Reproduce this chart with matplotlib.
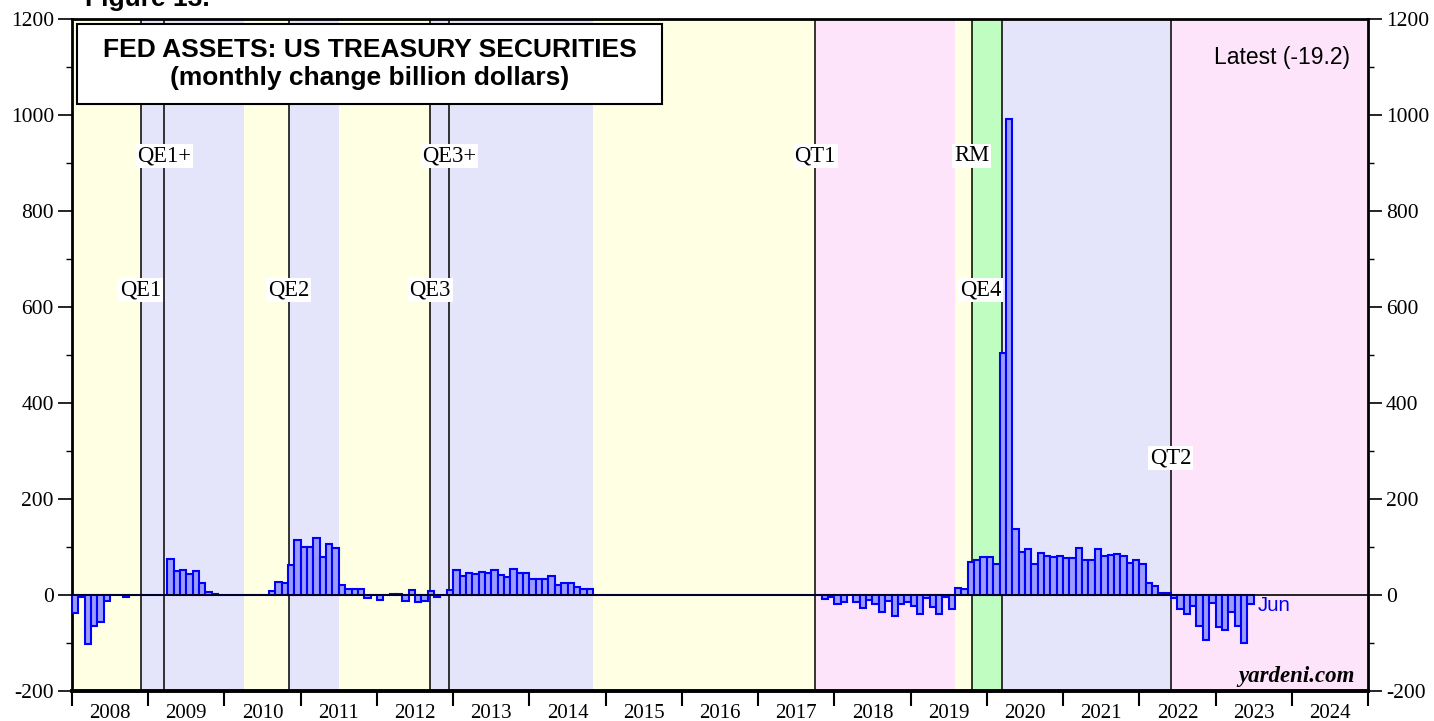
import numpy as np
import matplotlib
matplotlib.use("Agg")
import matplotlib.pyplot as plt
from matplotlib.patches import Rectangle

plt.rcParams["axes.unicode_minus"] = False

# ---------------- data ----------------
start_year = 2008  # first month = Jan 2008, monthly through Jun 2023
chg_2008 = [-37, -5, -102, -64, -57, -12, 0, 0, -4, 0, 0, 0]
chg_2009 = [-1, -1, 0, 74, 51, 53, 43, 49, 24, 6, 3, 1]
chg_2010 = [0, 0, 0, 0, 0, 0, 0, 8, 28, 26, 63, 115]
chg_2011 = [99, 99, 119, 80, 106, 97, 21, 13, 12, 13, -6, -1]
chg_2012 = [-10, 0, 3, 3, -12, 10, -15, -12, 9, -4, 1, 10]
chg_2013 = [53, 40, 45, 44, 47, 46, 53, 41, 38, 55, 46, 45]
chg_2014 = [34, 34, 33, 39, 20, 26, 24, 16, 12, 12, 0, 0]
chg_2015 = [-1, -1, -1, 0, 0, 0, 0, 0, 0, 0, 0, 0]
chg_2016 = [0, 0, 0, 0, 0, 0, 0, 0, 0, 0, 0, 0]
chg_2017 = [0, 0, 0, 0, 0, 0, 0, 0, 0, 0, -9, -4]
chg_2018 = [-19, -14, -1, -14, -28, -10, -19, -36, -12, -44, -19, -14]
chg_2019 = [-22, -39, -7, -24, -40, -4, -30, 14, 13, 68, 73, 80]
chg_2020 = [80, 65, 505, 992, 138, 89, 96, 65, 87, 81, 80, 81]
chg_2021 = [77, 77, 97, 73, 72, 96, 81, 83, 85, 82, 66, 73]
chg_2022 = [64, 26, 18, 4, 5, -7, -30, -40, -23, -65, -94, -16]
chg_2023 = [-66, -72, -36, -64, -101, -19.2]

values = (chg_2008 + chg_2009 + chg_2010 + chg_2011 + chg_2012 + chg_2013 +
          chg_2014 + chg_2015 + chg_2016 + chg_2017 + chg_2018 + chg_2019 +
          chg_2020 + chg_2021 + chg_2022 + chg_2023)

year_labels = [str(y) for y in range(2008, 2025)]
y_ticks = [-200, 0, 200, 400, 600, 800, 1000, 1200]

# policy events (fractional year) and shading periods
events = ["QE1", "QE1+", "QE2", "QE3", "QE3+", "QT1", "RM", "QE4", "QT2"]
event_dates = [2008.90, 2009.21, 2010.84, 2012.70, 2012.95, 2017.75, 2019.80, 2020.20, 2022.41]
shade_periods = [(2008.0, 2008.90, "y"), (2008.90, 2010.25, "b"), (2010.25, 2010.84, "y"),
                 (2010.84, 2011.50, "b"), (2011.50, 2012.70, "y"), (2012.70, 2014.83, "b"),
                 (2014.83, 2017.75, "y"), (2017.75, 2019.58, "p"), (2019.58, 2019.80, "y"),
                 (2019.80, 2020.20, "g"), (2020.20, 2022.41, "b"), (2022.41, 2025.0, "p")]

# ---------------- styling ----------------
shade_colors = {"y": "#FFFFE4", "b": "#E4E4FB", "p": "#FDE4FB", "g": "#C0FDC0"}
label_y = {"QE1": 635, "QE2": 635, "QE3": 635, "QE4": 635,
           "QE1+": 915, "QE3+": 915, "QT1": 915, "RM": 915, "QT2": 285}
serif = ["Liberation Serif", "DejaVu Serif"]
sans = ["Liberation Sans", "DejaVu Sans"]

W, H = 1434, 721
fig = plt.figure(figsize=(W / 100, H / 100), dpi=100)
ax = fig.add_axes([72 / W, 1 - 691 / H, 1296 / W, 672 / H])

for a, b, c in shade_periods:
    ax.axvspan(a, b, color=shade_colors[c], lw=0, zorder=0)

for name, d in zip(events, event_dates):
    ax.axvline(d, color="black", lw=1.1, zorder=1)
    xt = d
    ha = "center"
    if name == "QE4":
        xt = d - 0.01
        ha = "right"
    ax.text(xt, label_y[name], name, ha=ha, va="center", fontsize=16.3, family=serif,
            zorder=2, bbox=dict(facecolor="white", edgecolor="none", pad=1.2))

x = start_year + np.arange(len(values)) / 12.0
ax.bar(x, values, width=1 / 12.0, align="edge", color="#9C9CFF", edgecolor="#0000FF",
       linewidth=1.5, zorder=3)
ax.axhline(0, color="black", lw=1.2, zorder=4)

ax.set_xlim(2008, 2025)
ax.set_ylim(-200, 1200)

# y axis
ax.set_yticks(y_ticks)
ax.set_yticks(np.arange(-200, 1201, 100), minor=True)
ax.tick_params(axis="y", which="major", direction="out", length=10, width=1.2,
               labelsize=15.5, pad=3, left=True, right=True, labelleft=True, labelright=True)
ax.tick_params(axis="y", which="minor", direction="out", length=4, width=1.0,
               left=True, right=True)
for lab in ax.get_yticklabels():
    lab.set_family(serif)

# x axis
ax.set_xticks(np.arange(2008, 2026))
ax.set_xticklabels([])
ax.set_xticks(np.arange(2008, 2025) + 0.5, minor=True)
ax.set_xticklabels(year_labels, minor=True)
ax.tick_params(axis="x", which="major", direction="out", length=11, width=1.5)
ax.tick_params(axis="x", which="minor", length=0, labelsize=15, pad=9)
for lab in ax.get_xticklabels(minor=True):
    lab.set_family(serif)

for s in ["left", "right", "top"]:
    ax.spines[s].set_linewidth(2)
ax.spines["bottom"].set_linewidth(2.8)

# title box
box = Rectangle((5 / 1296, 1 - (104 - 19) / 672), (662 - 77) / 1296, (104 - 24) / 672,
                transform=ax.transAxes, facecolor="white", edgecolor="black", lw=1.5, zorder=6)
ax.add_patch(box)
ax.text(0.2296, 0.9539, "FED ASSETS: US TREASURY SECURITIES", transform=ax.transAxes,
        ha="center", va="center", fontsize=19, fontweight="bold", family=sans, zorder=7)
ax.text(0.2296, 0.9122, "(monthly change billion dollars)", transform=ax.transAxes,
        ha="center", va="center", fontsize=19, fontweight="bold", family=sans, zorder=7)

ax.text(0.986, 0.942, "Latest (-19.2)", transform=ax.transAxes, ha="right", va="center",
        fontsize=16.5, family=sans, zorder=7)
ax.text(2023.556, -21, "Jun", ha="left", va="center", fontsize=14.7, family=sans,
        color="#0000EE", zorder=7)
ax.text(0.990, 0.021, "yardeni.com", transform=ax.transAxes, ha="right", va="center",
        fontsize=16.5, family=serif, fontweight="bold", style="italic", zorder=7)

fig.text(85 / W, 1 - 6 / H, "Figure 13.", ha="left", va="baseline", fontsize=19,
         fontweight="bold", family=sans)

fig.savefig("out.png", dpi=100)
